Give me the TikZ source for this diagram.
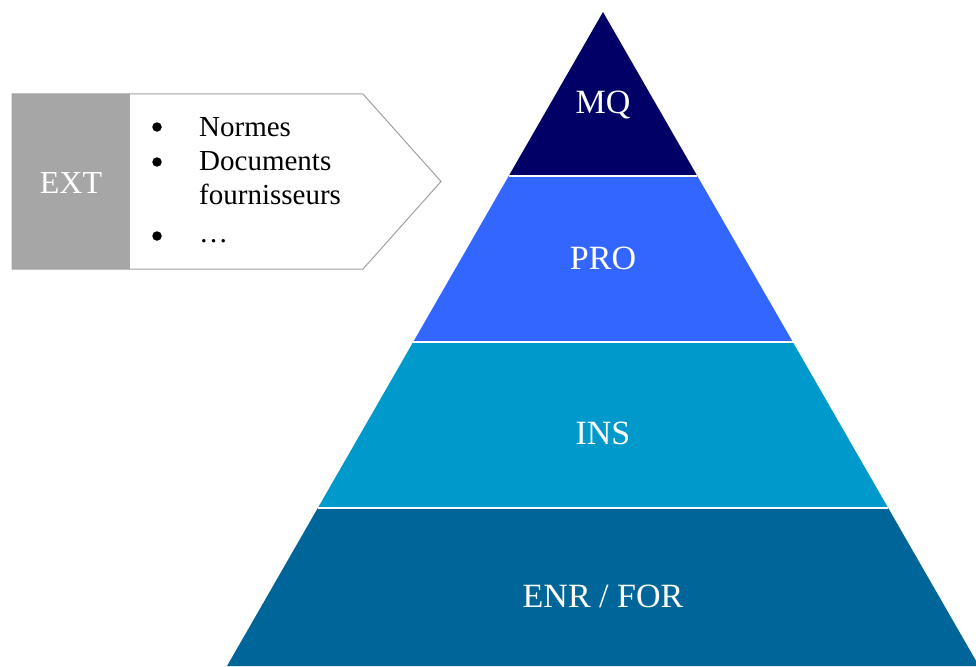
\documentclass[tikz,border=0pt]{standalone}
\usepackage{fontspec}
\setmainfont{Liberation Serif}
\usetikzlibrary{calc,positioning}
\definecolor{mqblue}{RGB}{0,0,102}
\definecolor{problue}{RGB}{51,102,255}
\definecolor{insblue}{RGB}{0,153,204}
\definecolor{enrblue}{RGB}{0,102,153}
\definecolor{extgray}{RGB}{166,166,166}
\definecolor{edgegray}{RGB}{160,160,160}
\begin{document}
\begin{tikzpicture}
[x=1pt,y=-1pt,
lbl/.style={text=white,font=\fontsize{34}{40}\selectfont},
itm/.style={anchor=base west,inner sep=0pt,font=\fontsize{29}{34}\selectfont},
bul/.style={circle,fill=black,inner sep=0pt,minimum size=9.5pt},
sep/.style={draw=white,line width=2pt}]
\useasboundingbox (0,0) rectangle (976,666);
% pyramid corners
\coordinate (top) at (603,12);
\coordinate (l1) at (508.7,176); \coordinate (r1) at (697.3,176);
\coordinate (l2) at (413.2,342); \coordinate (r2) at (792.8,342);
\coordinate (l3) at (317.8,508); \coordinate (r3) at (888.2,508);
\coordinate (l4) at (227,666); \coordinate (r4) at (979,666);

\fill[mqblue] (top) -- (r1) -- (l1) -- cycle;
\fill[problue] (l1) -- (r1) -- (r2) -- (l2) -- cycle;
\fill[insblue] (l2) -- (r2) -- (r3) -- (l3) -- cycle;
\fill[enrblue] (l3) -- (r3) -- (r4) -- (l4) -- cycle;
\draw[sep] (l1) -- (r1);
\draw[sep] (l2) -- (r2);
\draw[sep] (l3) -- (r3);

\node (mq) at (603,105) [lbl] {MQ};
\node (pro) at (603,258) [lbl] {PRO};
\node (ins) at (603,433) [lbl] {INS};
\node (enr) at (603,596) [lbl] {ENR / FOR};

% external box
\fill[extgray] (12,94) rectangle (130,269);
\draw[edgegray,line width=1pt] (12,94) -- (363,94) -- (441,181.5) -- (363,269) -- (12,269) -- cycle;
\node (ext) at (71,183) [lbl,font=\fontsize{32}{36}\selectfont] {EXT};

\node (b1) at (157,127) [bul] {};
\node (b2) at (157,162) [bul] {};
\node (b3) at (157,236) [bul] {};
\node (t1) at (199,136) [itm] {Normes};
\node (t2) at (199,170) [itm] {Documents};
\node (t2b) at (199,204) [itm] {fournisseurs};
\node (t3) at (199,242) [itm] {\dots};
\end{tikzpicture}
\end{document}
